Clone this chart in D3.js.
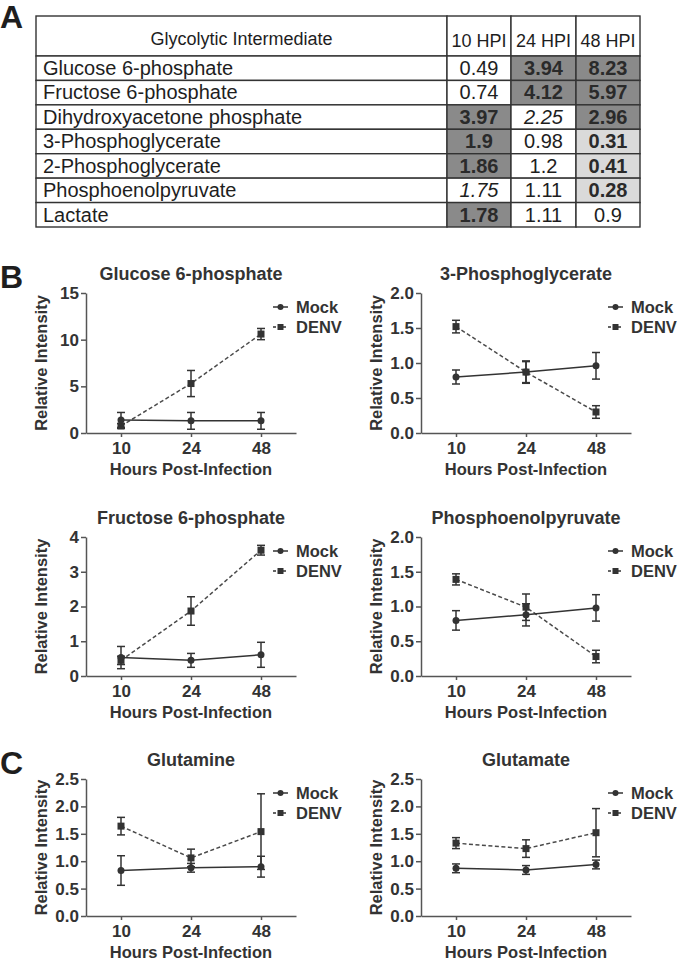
<!DOCTYPE html>
<html><head><meta charset="utf-8">
<script src="https://cdn.jsdelivr.net/npm/d3@7"></script>
<style>body{margin:0;background:#fff}svg{display:block;font-family:"Liberation Sans",Arial,Helvetica,sans-serif}</style>
</head><body><svg id="fig" width="680" height="963"></svg>
<script>
// ---------- DATA ----------
const tableHeaders = ["Glycolytic Intermediate", "10 HPI", "24 HPI", "48 HPI"];
const tableRows = ["Glucose 6-phosphate", "Fructose 6-phosphate", "Dihydroxyacetone phosphate",
  "3-Phosphoglycerate", "2-Phosphoglycerate", "Phosphoenolpyruvate", "Lactate"];
const tableValues = [
  ["0.49", "3.94", "8.23"],
  ["0.74", "4.12", "5.97"],
  ["3.97", "2.25", "2.96"],
  ["1.9", "0.98", "0.31"],
  ["1.86", "1.2", "0.41"],
  ["1.75", "1.11", "0.28"],
  ["1.78", "1.11", "0.9"]
];
// significance: up = significantly increased, down = significantly decreased, trend = near-significant, ns = not significant
const tableSignif = [
  ["ns", "up", "up"],
  ["ns", "up", "up"],
  ["up", "trend", "up"],
  ["up", "ns", "down"],
  ["up", "ns", "down"],
  ["trend", "ns", "down"],
  ["up", "ns", "ns"]
];

const hours = ["10", "24", "48"];
const seriesNames = ["Mock", "DENV"];
const panelTitles = ["Glucose 6-phosphate", "3-Phosphoglycerate", "Fructose 6-phosphate",
  "Phosphoenolpyruvate", "Glutamine", "Glutamate"];
const panelLetters = ["B", null, null, null, "C", null];
const panelYMax = [15, 2, 4, 2, 2.5, 2.5];
const panelYStep = [5, 0.5, 1, 0.5, 0.5, 0.5];

const mockMean = [
  [1.4, 1.3, 1.3],
  [0.80, 0.87, 0.96],
  [0.53, 0.45, 0.61],
  [0.80, 0.88, 0.98],
  [0.83, 0.88, 0.90],
  [0.87, 0.84, 0.94]
];
const mockErr = [
  [0.8, 0.9, 0.9],
  [0.10, 0.16, 0.19],
  [0.32, 0.20, 0.36],
  [0.14, 0.16, 0.19],
  [0.27, 0.08, 0.19],
  [0.08, 0.08, 0.08]
];
const denvMean = [
  [0.75, 5.3, 10.6],
  [1.52, 0.87, 0.30],
  [0.45, 1.87, 3.62],
  [1.39, 0.99, 0.28],
  [1.64, 1.06, 1.54],
  [1.33, 1.23, 1.52]
];
const denvErr = [
  [0.25, 1.4, 0.6],
  [0.09, 0.15, 0.09],
  [0.12, 0.41, 0.14],
  [0.08, 0.19, 0.09],
  [0.16, 0.16, 0.69],
  [0.10, 0.16, 0.44]
];

// ---------- DRAW ----------
const svg = d3.select("#fig");
svg.append("rect").attr("width", 680).attr("height", 963).attr("fill", "#fff");

const textCol = "#333";
const lineCol = "#333";

// Panel label A
svg.append("text").attr("x", 0).attr("y", 28).text("A")
  .attr("font-size", 32).attr("font-weight", "bold").attr("fill", "#1e1e1e");

// ---- Table ----
const colEdges = [36, 447, 511, 576, 640];
const tableTop = 16, headerBottom = 56, tableBottom = 227;
const rowScale = d3.scaleBand().domain(tableRows).range([headerBottom, tableBottom]);
const colScale = d3.scaleOrdinal().domain(tableHeaders).range(colEdges.slice(0, 4));
const colWidth = h => colEdges[tableHeaders.indexOf(h) + 1] - colScale(h);
const fillFor = {up: "#8a8a8a", down: "#dadada", ns: "#fff", trend: "#fff"};
const tableStroke = "#333";

const table = svg.append("g");
// header cells
tableHeaders.forEach((h, i) => {
  table.append("rect").attr("x", colScale(h)).attr("y", tableTop)
    .attr("width", colWidth(h)).attr("height", headerBottom - tableTop)
    .attr("fill", "#fff").attr("stroke", tableStroke).attr("stroke-width", 1.4);
  table.append("text").attr("x", colScale(h) + colWidth(h) / 2)
    .attr("y", i === 0 ? 45 : 47)
    .attr("text-anchor", "middle").attr("font-size", 18).attr("fill", "#1e1e1e").text(h);
});
// body cells
tableRows.forEach((r, ri) => {
  const y0 = rowScale(r), bh = rowScale.bandwidth();
  table.append("rect").attr("x", colEdges[0]).attr("y", y0)
    .attr("width", colEdges[1] - colEdges[0]).attr("height", bh)
    .attr("fill", "#fff").attr("stroke", tableStroke).attr("stroke-width", 1.4);
  table.append("text").attr("x", colEdges[0] + 7).attr("y", y0 + 19)
    .attr("font-size", 20).attr("fill", "#1e1e1e").text(r);
  tableValues[ri].forEach((v, ci) => {
    const h = tableHeaders[ci + 1];
    const s = tableSignif[ri][ci];
    table.append("rect").attr("x", colScale(h)).attr("y", y0)
      .attr("width", colWidth(h)).attr("height", bh)
      .attr("fill", fillFor[s]).attr("stroke", tableStroke).attr("stroke-width", 1.4);
    table.append("text").attr("x", colScale(h) + colWidth(h) / 2).attr("y", y0 + 19)
      .attr("text-anchor", "middle").attr("font-size", 20)
      .attr("font-weight", (s === "up" || s === "down") ? "bold" : "normal")
      .attr("font-style", s === "trend" ? "italic" : "normal")
      .attr("fill", (s === "up" || s === "down") ? "#2a2a2a" : "#1e1e1e").text(v);
  });
});

// ---- Line charts ----
const axisLeftX = [86, 421];
const axisLen = 210;
const rowTops = [293, 537, 779];
const rowHeights = [140, 139, 137];

panelTitles.forEach((title, i) => {
  const col = i % 2, row = Math.floor(i / 2);
  const x0 = axisLeftX[col], x1 = x0 + axisLen;
  const top = rowTops[row], bottom = top + rowHeights[row];
  const g = svg.append("g");

  const x = d3.scalePoint().domain(hours).range([x0, x1]).padding(0.5);
  const y = d3.scaleLinear().domain([0, panelYMax[i]]).range([bottom, top]);
  const fmt = panelYStep[i] >= 1 ? d3.format("d") : d3.format(".1f");

  const yAxis = g.append("g").attr("transform", `translate(${x0},0)`)
    .call(d3.axisLeft(y).tickValues(d3.range(0, panelYMax[i] + 1e-9, panelYStep[i]))
      .tickFormat(fmt).tickSize(5).tickSizeOuter(0).tickPadding(2));
  const xAxis = g.append("g").attr("transform", `translate(0,${bottom})`)
    .call(d3.axisBottom(x).tickSize(4).tickSizeOuter(0).tickPadding(5));
  [yAxis, xAxis].forEach(a => {
    a.select(".domain").attr("stroke", "#555").attr("stroke-width", 1.5);
    a.selectAll(".tick line").attr("stroke", "#555").attr("stroke-width", 1.5);
    a.selectAll(".tick text").attr("font-size", 17).attr("font-weight", "bold")
      .attr("fill", textCol).attr("font-family", '"Liberation Sans",Arial,sans-serif');
  });

  // title
  g.append("text").attr("x", (x0 + x1) / 2).attr("y", top - 13).attr("text-anchor", "middle")
    .attr("font-size", 18).attr("font-weight", "bold").attr("fill", textCol).text(title);
  // axis titles
  g.append("text").attr("x", (x0 + x1) / 2).attr("y", Math.min(bottom + 42, 958)).attr("text-anchor", "middle")
    .attr("font-size", 16.5).attr("font-weight", "bold").attr("fill", textCol).text("Hours Post-Infection");
  g.append("text").attr("transform", `translate(${x0 - 39},${(top + bottom) / 2}) rotate(-90)`)
    .attr("text-anchor", "middle").attr("font-size", 16.5).attr("font-weight", "bold")
    .attr("fill", textCol).text("Relative Intensity");

  if (panelLetters[i]) {
    g.append("text").attr("x", 0).attr("y", top - 5).text(panelLetters[i])
      .attr("font-size", 32).attr("font-weight", "bold").attr("fill", "#1e1e1e");
  }

  const line = d3.line().x((d, j) => x(hours[j])).y(d => y(d));
  const series = [
    {name: "DENV", mean: denvMean[i], err: denvErr[i], dash: "4,2.5", col: "#4a4a4a"},
    {name: "Mock", mean: mockMean[i], err: mockErr[i], dash: null, col: lineCol}
  ];
  series.forEach(s => {
    g.append("path").datum(s.mean).attr("d", line).attr("fill", "none")
      .attr("stroke", s.col).attr("stroke-width", 1.5)
      .attr("stroke-dasharray", s.dash);
    s.mean.forEach((m, j) => {
      const cx = x(hours[j]);
      const yt = y(m + s.err[j]), yb = y(Math.max(0, m - s.err[j]));
      g.append("line").attr("x1", cx).attr("x2", cx).attr("y1", yt).attr("y2", yb)
        .attr("stroke", lineCol).attr("stroke-width", 1.5);
      [yt, yb].forEach(yy => g.append("line").attr("x1", cx - 4).attr("x2", cx + 4)
        .attr("y1", yy).attr("y2", yy).attr("stroke", lineCol).attr("stroke-width", 1.5));
      if (s.name === "Mock") {
        g.append("circle").attr("cx", cx).attr("cy", y(m)).attr("r", 3.5).attr("fill", lineCol);
      } else {
        g.append("rect").attr("x", cx - 3.5).attr("y", y(m) - 3.5).attr("width", 7).attr("height", 7)
          .attr("fill", lineCol);
      }
    });
  });

  // legend
  seriesNames.forEach((nm, k) => {
    const ly = top + 20 + k * 20;
    const cy = ly - 6;
    g.append("line").attr("x1", x1 - 23).attr("x2", x1 - 8).attr("y1", cy).attr("y2", cy)
      .attr("stroke", lineCol).attr("stroke-width", 1.5)
      .attr("stroke-dasharray", nm === "DENV" ? "3,2" : null);
    if (nm === "Mock") {
      g.append("circle").attr("cx", x1 - 15.5).attr("cy", cy).attr("r", 3).attr("fill", lineCol);
    } else {
      g.append("rect").attr("x", x1 - 18.5).attr("y", cy - 3).attr("width", 6).attr("height", 6).attr("fill", lineCol);
    }
    g.append("text").attr("x", x1).attr("y", ly).attr("font-size", 16.5).attr("font-weight", "bold")
      .attr("fill", textCol).text(nm);
  });
});
</script></body></html>
